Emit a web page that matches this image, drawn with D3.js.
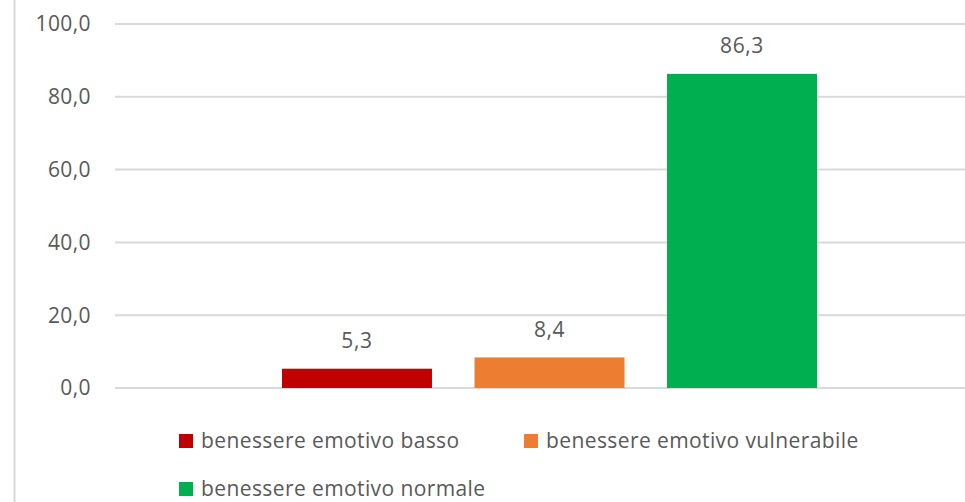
<!DOCTYPE html>
<html><head><meta charset="utf-8">
<script src="https://cdn.jsdelivr.net/npm/d3@7"></script>
<style>body{margin:0;background:#fff}svg{display:block}text{font-family:"Open Sans",Lato,sans-serif;fill:#595959}</style>
</head><body><svg width="965" height="502"></svg>
<script>
const seriesNames = ["benessere emotivo basso","benessere emotivo vulnerabile","benessere emotivo normale"];
const seriesValues = [5.3, 8.4, 86.3];
const seriesColors = ["#C00000","#ED7D31","#00B050"];
const yTicks = [0,20,40,60,80,100];

const svg = d3.select("svg");
const fmt = v => d3.format(".1f")(v).replace(".", ",");
svg.append("line").attr("x1",14.5).attr("x2",14.5).attr("y1",0).attr("y2",502).attr("stroke","#D9D9D9").attr("stroke-width",2);

const y = d3.scaleLinear().domain([0,100]).range([388,24]);
const x = d3.scaleBand().domain(seriesNames).range([115,984]).paddingInner(0.221).paddingOuter(0.8675);

const g = svg.append("g");
g.selectAll("line.grid").data(yTicks).join("line").attr("class","grid")
  .attr("x1",115).attr("x2",965).attr("y1",d=>y(d)).attr("y2",d=>y(d))
  .attr("stroke","#D9D9D9").attr("stroke-width",2);
g.selectAll("text.tick").data(yTicks).join("text").attr("class","tick")
  .attr("x",91).attr("y",d=>y(d)).attr("dy","0.35em").attr("text-anchor","end")
  .attr("font-size",21).attr("letter-spacing",0.4).text(fmt);

g.selectAll("rect.bar").data(seriesValues).join("rect").attr("class","bar")
  .attr("x",(d,i)=>x(seriesNames[i])).attr("width",x.bandwidth())
  .attr("y",d=>y(d)).attr("height",d=>y(0)-y(d)).attr("fill",(d,i)=>seriesColors[i]);
g.selectAll("text.val").data(seriesValues).join("text").attr("class","val")
  .attr("x",(d,i)=>x(seriesNames[i])+x.bandwidth()/2).attr("y",d=>y(d)-28).attr("dy","0.35em")
  .attr("text-anchor","middle").attr("font-size",21).attr("letter-spacing",0.6).text(fmt);

const legPos = [[179,441],[524,441],[179,489]];
const leg = svg.append("g");
seriesNames.forEach((n,i)=>{
  const [lx,ly] = legPos[i];
  leg.append("rect").attr("x",lx).attr("y",ly-7).attr("width",14).attr("height",14).attr("fill",seriesColors[i]);
  leg.append("text").attr("x",lx+22).attr("y",ly).attr("dy","0.35em").attr("font-size",21).attr("letter-spacing",0.4).text(n);
});
</script></body></html>
